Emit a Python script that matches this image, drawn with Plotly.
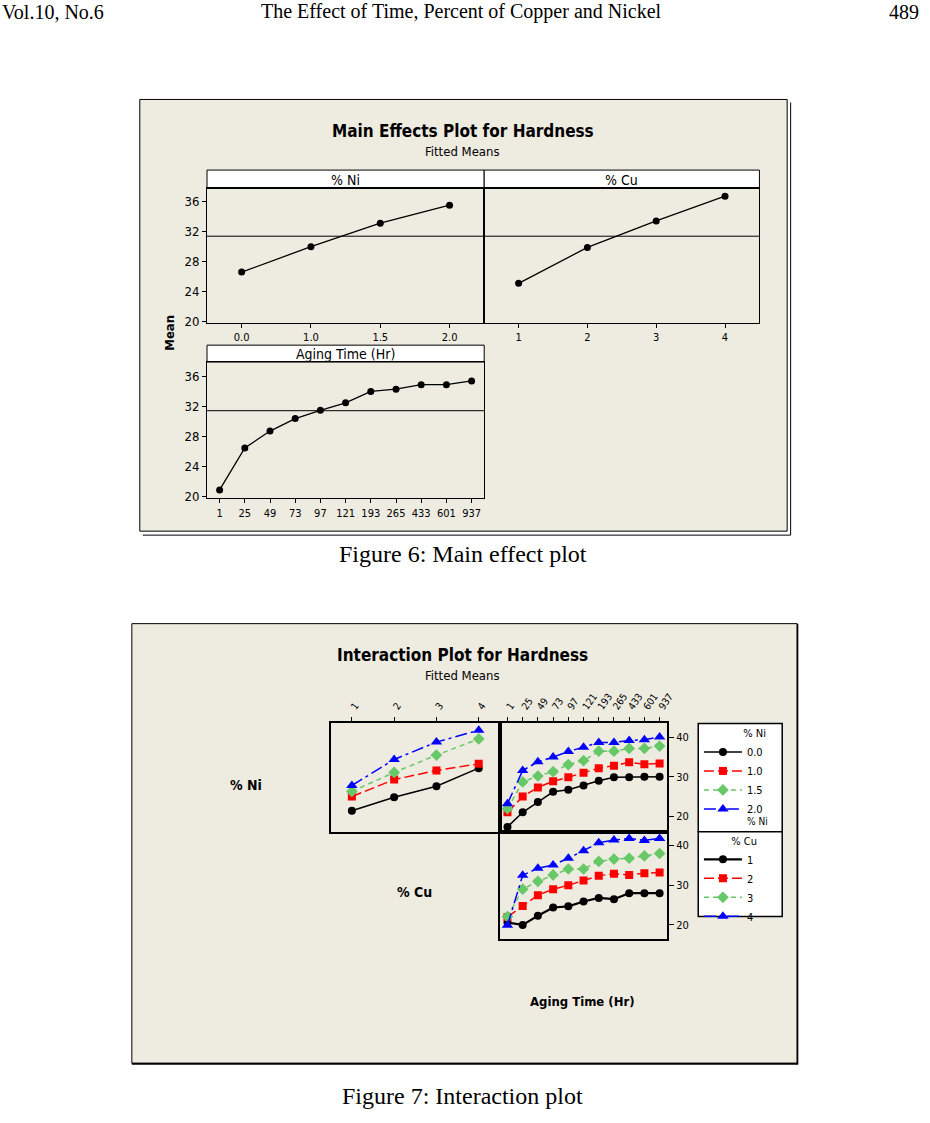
import plotly.graph_objects as go

W, H = 930, 1123


def px(x):
    return x / W


def py(y):
    return 1 - y / H


# ---------------- data ----------------
ni_levels = ["0.0", "1.0", "1.5", "2.0"]
cu_levels = ["1", "2", "3", "4"]
aging_levels = ["1", "25", "49", "73", "97", "121", "193", "265", "433", "601", "937"]

main_ni = [26.6, 30.0, 33.15, 35.55]
main_cu = [25.1, 29.9, 33.45, 36.75]
main_aging = [20.9, 26.45, 28.7, 30.35, 31.45, 32.45, 33.95, 34.25, 34.85, 34.85, 35.35]
grand_mean = 31.4

# interaction: % Ni levels (traces) vs % Cu
ni00_by_cu = [21.4, 24.8, 27.6, 32.2]
ni10_by_cu = [25.0, 29.3, 31.6, 33.3]
ni15_by_cu = [26.3, 31.1, 35.5, 39.6]
ni20_by_cu = [27.8, 34.4, 38.8, 41.8]

# interaction: % Ni levels (traces) vs Aging Time
ni00_by_age = [17.3, 21.0, 23.6, 26.2, 26.7, 27.8, 29.0, 29.9, 29.9, 30.0, 30.0]
ni10_by_age = [21.0, 25.0, 27.3, 28.9, 29.9, 31.0, 32.2, 32.8, 33.7, 33.2, 33.4]
ni15_by_age = [21.9, 28.7, 30.2, 31.3, 33.1, 34.1, 36.5, 36.5, 37.2, 37.2, 37.8]
ni20_by_age = [23.2, 31.6, 33.8, 35.0, 36.4, 37.5, 38.7, 38.7, 39.2, 39.4, 40.1]

# interaction: % Cu levels (traces) vs Aging Time
cu1_by_age = [20.6, 20.0, 22.3, 24.4, 24.7, 25.9, 26.8, 26.5, 28.0, 28.0, 28.0]
cu2_by_age = [22.0, 24.8, 27.5, 29.0, 30.0, 31.2, 32.4, 32.9, 32.6, 33.0, 33.2]
cu3_by_age = [22.1, 29.0, 31.0, 32.6, 34.1, 34.1, 36.0, 36.6, 36.8, 37.4, 38.0]
cu4_by_age = [19.9, 32.5, 34.3, 35.1, 36.8, 38.7, 40.7, 41.4, 41.8, 41.3, 41.8]

main_yticks = [20, 24, 28, 32, 36]
int_yticks = [20, 30, 40]

# ---------------- styles ----------------
SANS = "DejaVu Sans Condensed, DejaVu Sans, sans-serif"
SERIF = "Liberation Serif, Times New Roman, serif"
BEIGE = "#EEEBE0"
styles = [
    dict(color="black", dash="solid", symbol="circle", size=8),
    dict(color="#FF0000", dash="10px,4px", symbol="square", size=8),
    dict(color="#66C866", dash="5px,4px", symbol="diamond", size=9),
    dict(color="#0000FF", dash="12px,4px,3px,4px", symbol="triangle-up", size=10),
]

fig = go.Figure()

# ---------------- main effects traces ----------------
for xs, ys, xa, ya in [
    (ni_levels, main_ni, "x", "y"),
    (cu_levels, main_cu, "x2", "y2"),
    (aging_levels, main_aging, "x3", "y3"),
]:
    fig.add_trace(go.Scatter(
        x=xs, y=ys, xaxis=xa, yaxis=ya, mode="lines+markers",
        line=dict(color="black", width=1.3),
        marker=dict(size=7, color="black"), showlegend=False,
        hoverinfo="skip"))

# ---------------- interaction traces ----------------
ni_cu_series = [ni00_by_cu, ni10_by_cu, ni15_by_cu, ni20_by_cu]
ni_age_series = [ni00_by_age, ni10_by_age, ni15_by_age, ni20_by_age]
cu_age_series = [cu1_by_age, cu2_by_age, cu3_by_age, cu4_by_age]

for i, ys in enumerate(ni_cu_series):
    s = styles[i]
    fig.add_trace(go.Scatter(
        x=cu_levels, y=ys, xaxis="x4", yaxis="y4", mode="lines+markers",
        line=dict(color=s["color"], dash=s["dash"], width=1.5),
        marker=dict(symbol=s["symbol"], size=s["size"], color=s["color"]),
        showlegend=False, hoverinfo="skip"))

for i, ys in enumerate(ni_age_series):
    s = styles[i]
    fig.add_trace(go.Scatter(
        x=aging_levels, y=ys, xaxis="x5", yaxis="y5", mode="lines+markers",
        name=ni_levels[i], legend="legend",
        line=dict(color=s["color"], dash=s["dash"], width=1.5),
        marker=dict(symbol=s["symbol"], size=s["size"], color=s["color"]),
        showlegend=True, hoverinfo="skip"))

for i, ys in enumerate(cu_age_series):
    s = styles[i]
    fig.add_trace(go.Scatter(
        x=aging_levels, y=ys, xaxis="x6", yaxis="y6", mode="lines+markers",
        name=cu_levels[i], legend="legend2",
        line=dict(color=s["color"], dash=s["dash"], width=1.5 if i else 2.2),
        marker=dict(symbol=s["symbol"], size=s["size"], color=s["color"]),
        showlegend=True, hoverinfo="skip"))

# ---------------- axes ----------------
axis_common = dict(showline=True, mirror=True, linecolor="black", linewidth=1,
                   showgrid=False, zeroline=False, tickcolor="black",
                   tickfont=dict(family=SANS, size=11, color="black"))

lay = {}
# main effects
lay["xaxis"] = dict(axis_common, domain=[px(208.8), px(488.4)], anchor="y",
                    type="category", range=[-0.5, 3.5], ticks="outside", ticklen=4,
                    tickfont=dict(family=SANS, size=11, color="black"))
lay["yaxis"] = dict(axis_common, domain=[py(324.5), py(189.5)], anchor="x",
                    range=[19.83, 37.78], tickvals=main_yticks, ticks="outside",
                    ticklen=4, tickfont=dict(family=SANS, size=13, color="black"))
lay["xaxis2"] = dict(axis_common, domain=[px(488.4), px(766)], anchor="y2",
                     type="category", range=[-0.5, 3.5], ticks="outside", ticklen=4,
                     tickfont=dict(family=SANS, size=11, color="black"))
lay["yaxis2"] = dict(axis_common, domain=[py(324.5), py(189.5)], anchor="x2",
                     range=[19.83, 37.78], tickvals=main_yticks, ticks="",
                     showticklabels=False)
lay["xaxis3"] = dict(axis_common, domain=[px(208.8), px(488.4)], anchor="y3",
                     type="category", range=[-0.5, 10.5], ticks="outside", ticklen=4,
                     tickfont=dict(family=SANS, size=11, color="black"))
lay["yaxis3"] = dict(axis_common, domain=[py(501), py(364)], anchor="x3",
                     range=[19.78, 37.85], tickvals=main_yticks, ticks="outside",
                     ticklen=4, tickfont=dict(family=SANS, size=13, color="black"))
# interaction
lay["xaxis4"] = dict(axis_common, domain=[px(333.6), px(504.2)], anchor="y4",
                     type="category", range=[-0.5, 3.5], side="top", ticks="outside",
                     ticklen=5, tickangle=-55, linewidth=1.5,
                     tickfont=dict(family=SANS, size=10, color="black"))
lay["yaxis4"] = dict(axis_common, domain=[py(836.3), py(727.3)], anchor="x4",
                     range=[16.05, 43.54], ticks="", showticklabels=False, linewidth=1.5)
lay["xaxis5"] = dict(axis_common, domain=[px(504.2), px(673)], anchor="y5",
                     type="category", range=[-0.5, 10.5], side="top", ticks="outside",
                     ticklen=5, tickangle=-55, linewidth=1.5,
                     tickfont=dict(family=SANS, size=10, color="black"))
lay["yaxis5"] = dict(axis_common, domain=[py(836.3), py(727.3)], anchor="x5",
                     range=[16.05, 43.54], side="right", tickvals=int_yticks,
                     ticks="outside", ticklen=5, linewidth=1.5,
                     tickfont=dict(family=SANS, size=11, color="black"))
lay["xaxis6"] = dict(axis_common, domain=[px(504.2), px(673)], anchor="y6",
                     type="category", range=[-0.5, 10.5], ticks="",
                     showticklabels=False, linewidth=1.5)
lay["yaxis6"] = dict(axis_common, domain=[py(944), py(836.3)], anchor="x6",
                     range=[16.47, 43.46], side="right", tickvals=int_yticks,
                     ticks="outside", ticklen=5, linewidth=1.5,
                     tickfont=dict(family=SANS, size=11, color="black"))

# ---------------- shapes ----------------
shapes = []


def rect(x0, y0, x1, y1, fill, lw=1, layer="below"):
    shapes.append(dict(type="rect", xref="paper", yref="paper",
                       x0=px(x0), x1=px(x1), y0=py(y1), y1=py(y0),
                       fillcolor=fill, line=dict(color="black", width=lw),
                       layer=layer))


def pline(x0, y0, x1, y1, lw=1):
    shapes.append(dict(type="line", xref="paper", yref="paper",
                       x0=px(x0), x1=px(x1), y0=py(y0), y1=py(y1),
                       line=dict(color="black", width=lw), layer="below"))


# main effects frame (with double right/bottom edge)
rect(141, 100, 794, 534, BEIGE)
pline(797.5, 103, 797.5, 538)
pline(144, 538, 797.5, 538)
# strip headers
rect(208.8, 171, 488.4, 189.5, "white")
rect(488.4, 171, 766, 189.5, "white")
rect(208.8, 347, 488.4, 364, "white")
# reference (grand mean) lines
for xr, yr in [("x", "y"), ("x2", "y2"), ("x3", "y3")]:
    shapes.append(dict(type="line", xref=f"{xr} domain", yref=yr, x0=0, x1=1,
                       y0=grand_mean, y1=grand_mean,
                       line=dict(color="black", width=1), layer="above"))

# interaction frame
rect(133, 627, 804, 1069, BEIGE)
pline(133, 1069.5, 805, 1069.5, lw=2)
pline(804.5, 627, 804.5, 1070, lw=1.5)
# legend boxes
rect(704.3, 727.3, 789, 836.3, "white", lw=1.5)
rect(704.3, 836.3, 789, 921.3, "white", lw=1.5)

# ---------------- annotations ----------------
ann = []


def text(x, y, s, size, bold=False, family=SANS, xanchor="center", angle=0):
    ann.append(dict(xref="paper", yref="paper", x=px(x), y=py(y), text=s,
                    showarrow=False, xanchor=xanchor, yanchor="middle",
                    textangle=angle,
                    font=dict(family=family, size=size, color="black",
                              weight="bold" if bold else "normal")))


# page header
text(0, 12, "Vol.10, No.6", 20, family=SERIF, xanchor="left")
text(465, 12, "The Effect of Time, Percent of Copper and Nickel", 20, family=SERIF)
text(929, 12, "489", 20, family=SERIF, xanchor="right")

# main effects
text(467, 132, "Main Effects Plot for Hardness", 17, bold=True)
text(467, 152, "Fitted Means", 13)
text(348.6, 180.5, "% Ni", 14)
text(627.2, 180.5, "% Cu", 14)
text(348.6, 355.5, "Aging Time (Hr)", 14)
text(171, 335, "Mean", 13, bold=True, angle=-90)
text(467.5, 557, "Figure 6: Main effect plot", 24, family=SERIF)

# interaction
text(467, 659, "Interaction Plot for Hardness", 17, bold=True)
text(467, 679, "Fitted Means", 13)
text(248.3, 789, "% Ni", 14, bold=True)
text(418.5, 897, "% Cu", 14, bold=True)
text(588, 1006.5, "Aging Time (Hr)", 13, bold=True)
text(777, 826, "% Ni", 10, xanchor="right")
text(467, 1102, "Figure 7: Interaction plot", 24, family=SERIF)

legend_common = dict(bgcolor="rgba(0,0,0,0)", borderwidth=0,
                     xanchor="left", yanchor="top", itemwidth=38,
                     tracegroupgap=0, itemclick=False, itemdoubleclick=False,
                     font=dict(family=SANS, size=11, color="black"))

fig.update_layout(
    width=W, height=H, autosize=False,
    margin=dict(l=0, r=0, t=0, b=0, pad=0),
    paper_bgcolor="white", plot_bgcolor="white",
    shapes=shapes, annotations=ann,
    legend=dict(legend_common, x=px(705), y=py(727),
                title=dict(text="% Ni", side="top right",
                           font=dict(family=SANS, size=11, color="black"))),
    legend2=dict(legend_common, x=px(705), y=py(835),
                 title=dict(text="% Cu", side="top right",
                            font=dict(family=SANS, size=11, color="black"))),
    **lay,
)

post = ("document.documentElement.style.margin='0px';"
        "document.body.style.margin='0px';"
        "document.body.style.height='1123px';"
        "document.body.style.overflow='hidden';"
        "document.documentElement.style.overflow='hidden';")
fig.write_html("out.html", config={"displayModeBar": False}, post_script=post)
